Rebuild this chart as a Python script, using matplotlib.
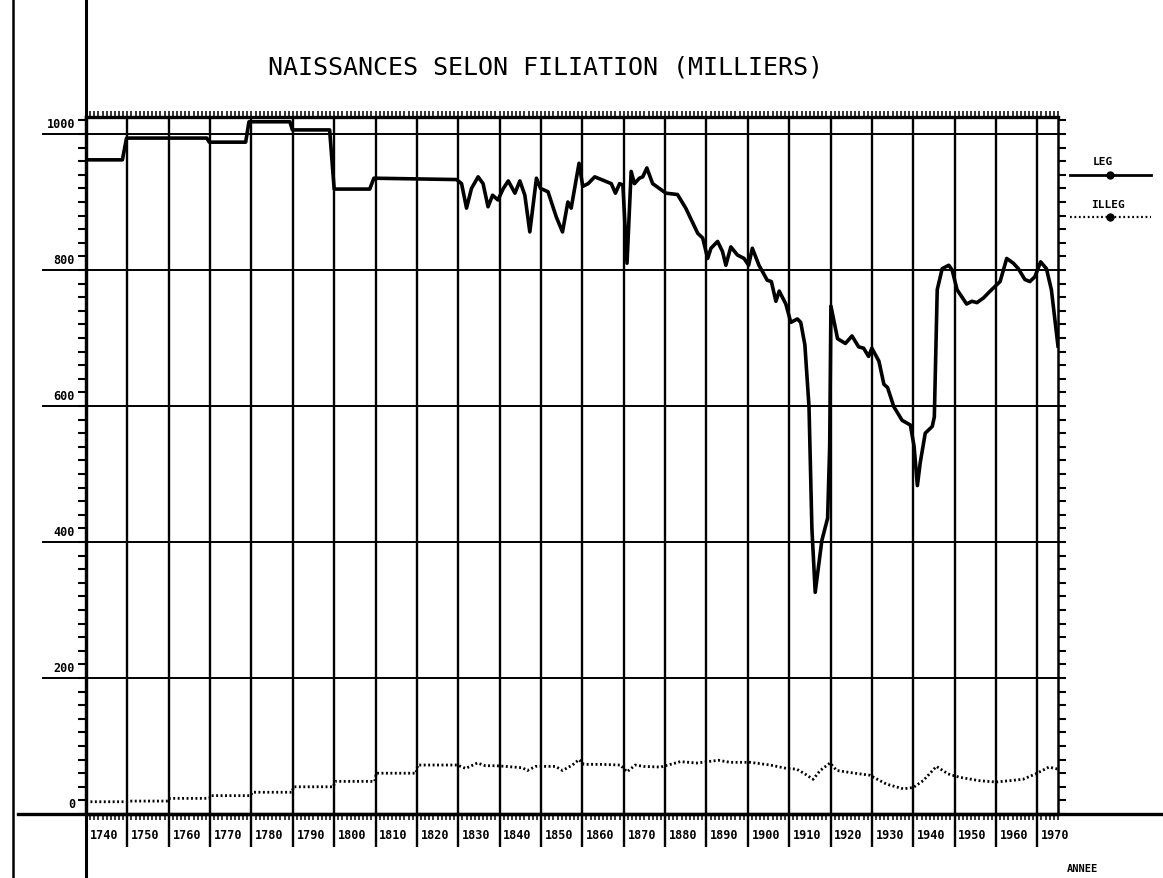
import matplotlib
matplotlib.use("Agg")
import matplotlib.pyplot as plt
from matplotlib.lines import Line2D
from matplotlib.ticker import MultipleLocator

# ---------------- data ----------------
leg_years = [1740, 1748.8, 1749.8, 1769.2, 1769.8, 1778.6, 1779.4, 1789.3, 1789.9, 1798.9,
             1800.0, 1808.6, 1809.6, 1829.6, 1830.8, 1832, 1833.2, 1834.8, 1836, 1837.2,
             1838.3, 1839.6, 1840.9, 1842.1, 1843.7, 1844.9, 1846.1, 1847.3, 1848.9, 1849.9,
             1851.7, 1853.7, 1855.2, 1856.5, 1857.3, 1859.2, 1860.1, 1861.4, 1863, 1865,
             1867, 1868, 1869, 1869.8, 1870.8, 1871.8, 1872.6, 1873.8, 1874.6, 1875.6,
             1877, 1878.6, 1880.2, 1883, 1885, 1887.9, 1889.1, 1890.3, 1891.1, 1892.7,
             1893.9, 1894.7, 1895.9, 1897.5, 1899.1, 1900.2, 1901.1, 1902.7, 1904.7, 1905.7,
             1906.8, 1907.6, 1909.2, 1910.4, 1912, 1912.8, 1913.8, 1914.8, 1915.5, 1916.3,
             1917.9, 1919.3, 1919.8, 1920.1, 1921.7, 1923.6, 1925.2, 1926.8, 1928, 1929.2,
             1930, 1931.7, 1932.9, 1933.8, 1935.3, 1937.3, 1939.3, 1940.2, 1941, 1941.7,
             1942.9, 1944.6, 1945.1, 1945.8, 1947, 1948.6, 1949.4, 1950.6, 1952.9, 1954.2,
             1955.4, 1957, 1958.6, 1959.8, 1961, 1962.6, 1964.2, 1965.4, 1967, 1968.2,
             1969.4, 1970.8, 1972.2, 1973.4, 1975]
leg_values = [962, 962, 994, 994, 988, 988, 1018, 1018, 1006, 1006,
              919, 919, 935, 933, 927, 891, 920, 937, 927, 893,
              910, 903, 920, 931, 913, 931, 910, 856, 935, 920,
              915, 878, 856, 900, 891, 957, 923, 927, 937, 932,
              927, 913, 927, 925, 810, 945, 927, 935, 937, 950,
              927, 920, 913, 911, 891, 854, 847, 817, 832, 842,
              827, 807, 834, 822, 817, 807, 832, 807, 785, 783,
              754, 769, 750, 723, 728, 723, 690, 599, 420, 326,
              402, 435, 541, 747, 699, 692, 703, 687, 685, 673,
              685, 666, 632, 627, 599, 579, 572, 541, 483, 517,
              560, 570, 584, 771, 802, 807, 800, 771, 750, 754,
              752, 759, 769, 776, 783, 817, 810, 802, 786, 783,
              790, 812, 802, 771, 688]

illeg_years = [1740, 1749.8, 1750.2, 1759.8, 1760.2, 1769.8, 1770.2, 1779.8, 1780.2, 1789.8,
               1790.2, 1799.8, 1800.2, 1809.8, 1810.2, 1819.8, 1820.2, 1829.8, 1831.8, 1834.6,
               1836.6, 1839, 1841.4, 1845.5, 1846.7, 1848.7, 1853.5, 1855.2, 1857.6, 1859.2,
               1860.4, 1864.4, 1869.2, 1870.8, 1872.8, 1874.8, 1878.9, 1883.7, 1887.7, 1892.9,
               1895.7, 1900.6, 1905.4, 1909.4, 1911.8, 1913.8, 1915.8, 1917.5, 1919.9, 1921.5,
               1924.7, 1929.5, 1933.5, 1937.6, 1940, 1942.4, 1945.6, 1948.4, 1951.2, 1956,
               1960, 1966.5, 1969.6, 1972.8, 1975]
illeg_values = [18, 18, 19, 19, 23, 23, 27, 27, 32, 32,
                40, 40, 48, 48, 60, 60, 72, 72, 67, 75,
                71, 71, 70, 68, 64, 70, 70, 64, 72, 80,
                73, 73, 72, 62, 72, 70, 69, 77, 75, 79,
                76, 76, 72, 67, 66, 59, 51, 64, 75, 64,
                61, 57, 44, 37, 39, 49, 70, 59, 54, 49,
                47, 51, 59, 69, 66]

decades = list(range(1740, 1971, 10))
x_labels = [str(d) for d in decades]
y_ticks = [0, 200, 400, 600, 800, 1000]
y_labels = ["0", "200", "400", "600", "800", "1000"]
title = "NAISSANCES SELON FILIATION (MILLIERS)"
series_names = ["LEG", "ILLEG"]

# ---------------- figure ----------------
W, H = 1163, 879
fig = plt.figure(figsize=(W / 100, H / 100), dpi=100)
fig.patch.set_facecolor("white")

def fx(px):
    return px / W

def fy(py):
    return 1 - py / H

ax_left, ax_right, ax_top, ax_bot = 86, 1058, 118, 815
ax = fig.add_axes([fx(ax_left), fy(ax_bot), fx(ax_right - ax_left), (ax_bot - ax_top) / H])
XMIN, XMAX = 1740, 1975
YMIN, YMAX = 0, 1025
ax.set_xlim(XMIN, XMAX)
ax.set_ylim(YMIN, YMAX)

px_per_year = (ax_right - ax_left) / (XMAX - XMIN)
px_per_unit = (ax_bot - ax_top) / (YMAX - YMIN)

mono = "DejaVu Sans Mono"

# grid lines (vertical extend below axis, horizontal extend left)
ax.vlines(decades[1:], -33 / px_per_unit, YMAX, colors="black", lw=1.7, clip_on=False, zorder=1)
ax.hlines(y_ticks[1:], XMIN - 44 / px_per_year, XMAX, colors="black", lw=1.4, clip_on=False, zorder=1)

# series
ax.plot(leg_years, leg_values, color="black", lw=2.6, solid_joinstyle="round", zorder=3)
ax.plot(illeg_years, illeg_values, color="black", lw=2.0, linestyle=(0, (0.7, 0.9)), zorder=3)

# spines
for s in ["left", "bottom", "top"]:
    ax.spines[s].set_linewidth(2.4)
ax.spines["right"].set_linewidth(1.8)

# ticks
ax.set_xticks(decades)
ax.xaxis.set_minor_locator(MultipleLocator(1))
ax.set_yticks(y_ticks)
ax.yaxis.set_minor_locator(MultipleLocator(20))
ax.tick_params(axis="x", which="both", direction="out", top=True, bottom=True,
               labelbottom=False, labeltop=False, length=4, width=1.1)
ax.tick_params(axis="y", which="both", direction="out", left=True, right=True,
               labelleft=False, labelright=False, length=6, width=1.5)

# x tick labels in cells
for d, lab in zip(decades, x_labels):
    ax.text(d + 0.9, -21 / px_per_unit, lab, ha="left", va="center",
            fontsize=8.5, fontweight="bold", family=mono, clip_on=False)

# y tick labels above gridlines
for v, lab in zip(y_ticks, y_labels):
    ax.text(XMIN - 11 / px_per_year, v + 10 / px_per_unit, lab, ha="right", va="center",
            fontsize=8.5, fontweight="bold", family=mono, clip_on=False)

# title
fig.text(fx(546), fy(68), title, ha="center", va="center", fontsize=18, family=mono)

# axis name
fig.text(fx(1082), fy(869), "ANNEE", ha="center", va="center", fontsize=7.5,
         fontweight="bold", family=mono)

# extra frame lines of the printout
fig.add_artist(Line2D([fx(ax_left)] * 2, [0, 1], transform=fig.transFigure, color="black", lw=2.2))
fig.add_artist(Line2D([fx(13)] * 2, [0, 1], transform=fig.transFigure, color="black", lw=1.8))
fig.add_artist(Line2D([fx(18), 1], [fy(ax_bot)] * 2, transform=fig.transFigure, color="black", lw=2.4))

# legend
fig.text(fx(1103), fy(162), series_names[0], ha="center", va="center", fontsize=8,
         fontweight="bold", family=mono)
fig.add_artist(Line2D([fx(1070), fx(1151)], [fy(176)] * 2, transform=fig.transFigure,
                      color="black", lw=2.0))
fig.add_artist(Line2D([fx(1110)], [fy(176)], transform=fig.transFigure, color="black",
                      marker="o", markersize=5, lw=0))
fig.text(fx(1108), fy(205), series_names[1], ha="center", va="center", fontsize=8,
         fontweight="bold", family=mono)
fig.add_artist(Line2D([fx(1070), fx(1151)], [fy(218)] * 2, transform=fig.transFigure,
                      color="black", lw=1.6, linestyle=(0, (0.8, 1.2))))
fig.add_artist(Line2D([fx(1110)], [fy(218)], transform=fig.transFigure, color="black",
                      marker="o", markersize=5, lw=0))

fig.savefig("out.png", dpi=100, facecolor="white")
